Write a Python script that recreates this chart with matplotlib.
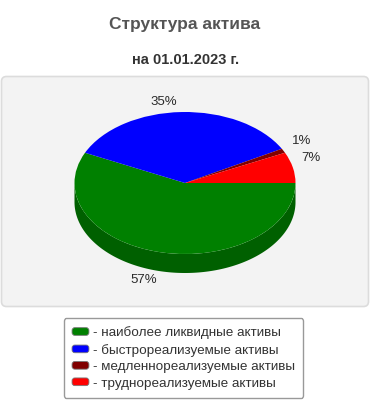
import numpy as np
import matplotlib
matplotlib.use("Agg")
import matplotlib.pyplot as plt
from matplotlib.patches import FancyBboxPatch, Polygon, Patch
from matplotlib.legend_handler import HandlerPatch

# ---- data ----
title = "Структура актива"
subtitle = "на 01.01.2023 г."
categories = ["наиболее ликвидные активы", "быстрореализуемые активы",
              "медленнореализуемые активы", "труднореализуемые активы"]
values = [57, 35, 1, 7]
colors = ["#008000", "#0000ff", "#800000", "#ff0000"]

plt.rcParams['font.family'] = ['Liberation Sans', 'DejaVu Sans']

W, H = 370, 400
fig = plt.figure(figsize=(W / 100, H / 100), dpi=100)

# background overlay axes in pixel coordinates
bg = fig.add_axes([0, 0, 1, 1])
bg.set_xlim(0, W)
bg.set_ylim(H, 0)
bg.axis('off')

# plot area box
bg.add_patch(FancyBboxPatch((1.5, 76.5), 367, 230, boxstyle="round,pad=0,rounding_size=5",
                            facecolor="#f3f3f3", edgecolor="#dcdcdc", linewidth=1.2))

fig.text(185 / W, 1 - 29 / H, title, ha='center', va='baseline', fontsize=12.5,
         fontweight='bold', color='#555555')
fig.text(186 / W, 1 - 64.5 / H, subtitle, ha='center', va='baseline', fontsize=10.5,
         fontweight='bold', color='#333333')

# pie geometry (pixels)
cx, cy, rx, ry, depth = 185, 183, 110.5, 71, 19
ax = fig.add_axes([(cx - rx) / W, 1 - (cy + ry) / H, 2 * rx / W, 2 * ry / H])
wedges, _ = ax.pie(values, colors=colors, startangle=0, counterclock=False,
                   wedgeprops=dict(linewidth=0, antialiased=True))
ax.set_aspect('auto')
ax.set_xlim(-1, 1)
ax.set_ylim(-1, 1)
ax.axis('off')
d = depth / ry


def darker(c, f=0.75):
    rgb = np.array(matplotlib.colors.to_rgb(c))
    return tuple(rgb * f)


for w, col in zip(wedges, colors):
    t1, t2 = w.theta1, w.theta2
    for lo, hi in [(-540, -360), (-180, 0), (180, 360)]:
        a, b = max(t1, lo), min(t2, hi)
        if b > a:
            t = np.radians(np.linspace(a, b, 200))
            top = np.column_stack([np.cos(t), np.sin(t)])
            bot = np.column_stack([np.cos(t[::-1]), np.sin(t[::-1]) - d])
            ax.add_patch(Polygon(np.vstack([top, bot]), closed=True, facecolor=darker(col),
                                 edgecolor='none', zorder=0.5, clip_on=False))

# percentage labels
total = sum(values)
for w, v in zip(wedges, values):
    m = np.radians((w.theta1 + w.theta2) / 2)
    x, y = np.cos(m), np.sin(m)
    yy = y - d if y < 0 else y
    dx = 8 if x > 0 else -4
    dy = 10 if y > 0 else -9
    ax.annotate(f"{round(100 * v / total)}%", xy=(x, yy), xytext=(dx, dy),
                textcoords='offset pixels', ha='left' if x > 0 else 'right', va='center',
                fontsize=9.5, color='#2a2a2a', annotation_clip=False)


# legend
def rounded_handle(legend, orig_handle, xdescent, ydescent, width, height, fontsize):
    return FancyBboxPatch((-xdescent, -ydescent), width, height,
                          boxstyle="round,pad=0,rounding_size=2")


handles = [Patch(facecolor=c, edgecolor='#777777', linewidth=0.6) for c in colors]
leg = fig.legend(handles, ["- " + c for c in categories], loc='upper center',
                 bbox_to_anchor=(183.5 / W, 1 - 318 / H), fontsize=9.7, frameon=True,
                 fancybox=True, edgecolor='#999999', facecolor='white', framealpha=1,
                 handlelength=1.25, handleheight=0.5, handletextpad=0.3,
                 labelspacing=0.33, borderpad=0.62, borderaxespad=0,
                 handler_map={Patch: HandlerPatch(patch_func=rounded_handle)})
for t in leg.get_texts():
    t.set_color('#333333')
leg.get_frame().set_linewidth(1.0)

fig.savefig("out.png", dpi=100)
